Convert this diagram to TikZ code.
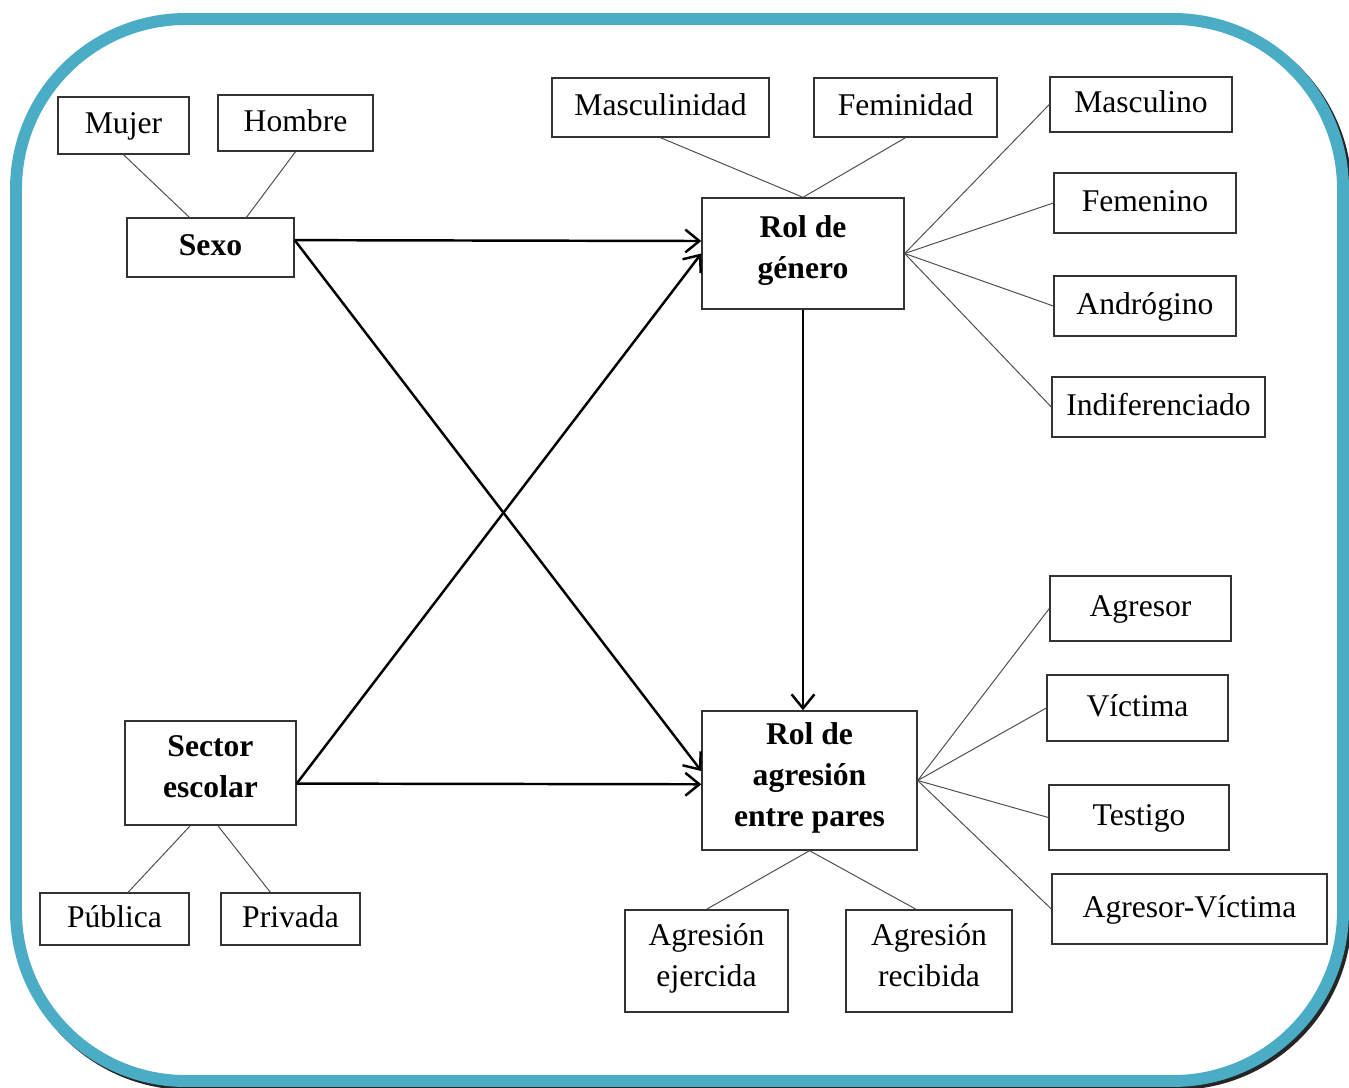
\documentclass[tikz,border=0pt]{standalone}
\usepackage{fontspec}
\setmainfont{Liberation Serif}
\usepackage{xcolor}
\usetikzlibrary{positioning, calc, arrows.meta}

\definecolor{marco}{RGB}{75,172,198}

\begin{document}
\begin{tikzpicture}[
  x=0.02cm, y=-0.02cm,
  font=\fontsize{18}{23.3}\selectfont,
  caja/.style={draw=black!80, line width=0.8pt, inner sep=0pt, align=center,
    execute at begin node=\strut, execute at end node=\strut},
  enlace/.style={black!70, line width=0.55pt},
  flecha/.style={black, line width=1.4pt, -{Straight Barb[length=8pt, width=13pt, line width=1.4pt]}},
  negrita/.style={font=\fontsize{18}{23.3}\selectfont\bfseries},
]
\useasboundingbox (0,0) rectangle (1349,1088);

% ---- rounded frame with shadow ----
\draw[black!85, line width=6.8pt, rounded corners=3.4cm] (19,22) rectangle (1346,1084);
\fill[white, rounded corners=3.4cm] (16,19) rectangle (1343,1081);
\draw[marco, line width=6.8pt, rounded corners=3.4cm] (16,19) rectangle (1343,1081);

% ---- main boxes ----
\node[caja, negrita, minimum width=3.34cm, minimum height=1.18cm] (sexo) at (210.5,247.5) {Sexo};
\node[caja, negrita, minimum width=3.42cm, minimum height=2.08cm] (sector) at (210.5,773) {Sector\\escolar};
\node[caja, negrita, minimum width=4.04cm, minimum height=2.22cm] (rolgen) at (803,253.5) {Rol de\\género};
\node[caja, negrita, minimum width=4.30cm, minimum height=2.78cm] (rolagr) at (809.5,780.5) {Rol de\\agresión\\entre pares};

% ---- sexo ----
\node[caja, minimum width=2.62cm, minimum height=1.14cm] (mujer) at (123.5,125.5) {Mujer};
\node[caja, minimum width=3.10cm, minimum height=1.12cm] (hombre) at (295.5,123) {Hombre};

% ---- sector escolar ----
\node[caja, minimum width=2.98cm, minimum height=1.04cm] (publica) at (114.5,919) {Pública};
\node[caja, minimum width=2.78cm, minimum height=1.04cm] (privada) at (290.5,919) {Privada};

% ---- rol de genero ----
\node[caja, minimum width=4.34cm, minimum height=1.18cm] (mascd) at (660.5,107.5) {Masculinidad};
\node[caja, minimum width=3.66cm, minimum height=1.18cm] (femd) at (905.5,107.5) {Feminidad};
\node[caja, minimum width=3.64cm, minimum height=1.10cm] (masc) at (1141,104.5) {Masculino};
\node[caja, minimum width=3.64cm, minimum height=1.20cm] (fem) at (1145,203) {Femenino};
\node[caja, minimum width=3.64cm, minimum height=1.20cm] (andro) at (1145,306) {Andrógino};
\node[caja, minimum width=4.26cm, minimum height=1.20cm] (indif) at (1158.5,407) {Indiferenciado};

% ---- rol de agresion ----
\node[caja, minimum width=3.62cm, minimum height=1.30cm] (agresor) at (1140.5,608.5) {Agresor};
\node[caja, minimum width=3.62cm, minimum height=1.32cm] (victima) at (1137.5,708) {Víctima};
\node[caja, minimum width=3.60cm, minimum height=1.30cm] (testigo) at (1139,817.5) {Testigo};
\node[caja, minimum width=5.50cm, minimum height=1.40cm] (agrvic) at (1189.5,909) {Agresor-Víctima};
\node[caja, minimum width=3.26cm, minimum height=2.04cm] (ejer) at (706.5,961) {Agresión\\ejercida};
\node[caja, minimum width=3.32cm, minimum height=2.04cm] (recib) at (929,961) {Agresión\\recibida};

% ---- thin links ----
\draw[enlace] (mujer.south) -- (sexo.125);
\draw[enlace] (hombre.south) -- (sexo.40);
\draw[enlace] (sector.-111) -- (publica.63);
\draw[enlace] (sector.-82) -- (privada.127);
\draw[enlace] (mascd.south) -- (rolgen.north);
\draw[enlace] (femd.south) -- (rolgen.north);
\foreach \n in {masc, fem, andro, indif}{
  \draw[enlace] (rolgen.east) -- (\n.west);
}
\foreach \n in {agresor, victima, testigo, agrvic}{
  \draw[enlace] (rolagr.east) -- (\n.west);
}
\draw[enlace] (rolagr.south) -- (ejer.north);
\draw[enlace] (rolagr.south) -- (recib.104);

% ---- arrows ----
\draw[flecha] (sexo.5) -- (rolgen.173);
\draw[flecha] (sexo.5) -- (rolagr.175);
\draw[flecha] (sector.-7) -- (rolgen.west);
\draw[flecha] (sector.-7) -- (rolagr.-178);
\draw[flecha] (rolgen.south) -- (rolgen.south |- rolagr.north);

\end{tikzpicture}
\end{document}
